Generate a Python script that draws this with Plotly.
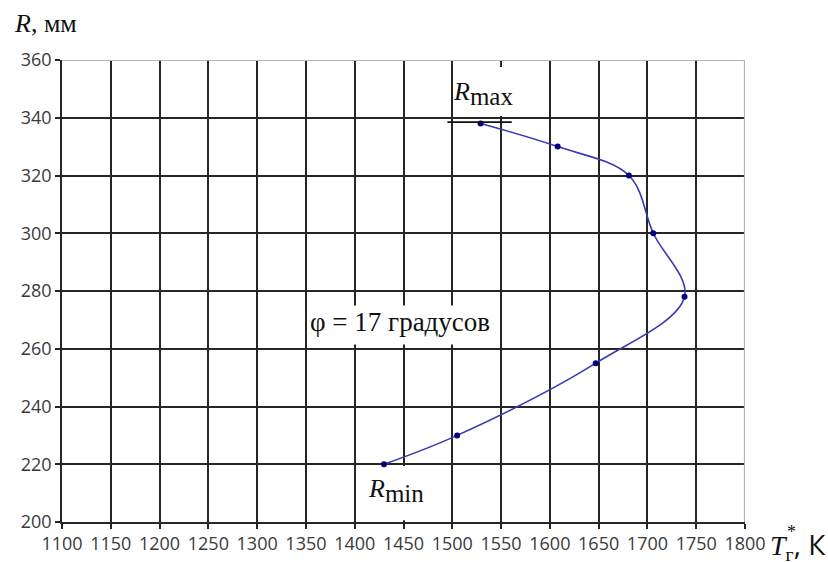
import plotly.graph_objects as go

# Data
T_values = [1430, 1505, 1647, 1738, 1706, 1681, 1608, 1529]
R_values = [220, 230, 255, 278, 300, 320, 330, 338]

x_ticks = list(range(1100, 1801, 50))
y_ticks = list(range(200, 361, 20))

GRID = "#262626"
TICKFONT = dict(family="Open Sans", size=18, color="#3a3a3a")
SERIF = "Liberation Serif"

fig = go.Figure()

fig.add_trace(go.Scatter(
    x=T_values, y=R_values, mode="lines+markers",
    line=dict(color="#3a3ab4", width=1.6, shape="spline", smoothing=1.0),
    marker=dict(color="#000080", size=6),
    showlegend=False, hoverinfo="skip",
))

shapes = []
# white text boxes hiding grid lines (between grid and data)
for (x0, x1, y0, y1) in [(1518, 1578, 340.6, 357.6),
                         (1362, 1546, 261.5, 275.0),
                         (1408, 1494, 200.6, 219.4)]:
    shapes.append(dict(type="rect", xref="x", yref="y", x0=x0, x1=x1, y0=y0, y1=y1,
                       fillcolor="white", line=dict(width=0), layer="between"))
# R_max rule
shapes.append(dict(type="line", xref="x", yref="y", x0=1495, x1=1561, y0=338.5, y1=338.5,
                   line=dict(color="#111111", width=1.6), layer="above"))
# light top and right borders
shapes.append(dict(type="line", xref="x", yref="y", x0=1100, x1=1800, y0=360, y1=360,
                   line=dict(color="#b4b4b4", width=2.2), layer="above"))
shapes.append(dict(type="line", xref="x", yref="y", x0=1800, x1=1800, y0=200, y1=360,
                   line=dict(color="#b4b4b4", width=2.2), layer="above"))

SUB = "<sub><span style='font-size:25px'>{}</span></sub>"

annotations = [
    dict(x=1531, y=348.5, xref="x", yref="y", showarrow=False,
         text="<i>R</i>" + SUB.format("max"), font=dict(family=SERIF, size=26, color="#111111")),
    dict(x=1446, y=269.3, xref="x", yref="y", showarrow=False,
         text="φ = 17 градусов", font=dict(family=SERIF, size=27, color="#111111")),
    dict(x=1442, y=211, xref="x", yref="y", showarrow=False,
         text="<i>R</i>" + SUB.format("min"), font=dict(family=SERIF, size=26, color="#111111")),
    dict(x=-0.0732, y=1.08, xref="paper", yref="paper", xanchor="left", yanchor="middle",
         showarrow=False, text="<i>R</i>, мм",
         font=dict(family=SERIF, size=26, color="#111111")),
    dict(x=1.0337, y=-0.05, xref="paper", yref="paper", xanchor="left", yanchor="middle",
         showarrow=False,
         text="<i>T</i><sub>г</sub><span style='font-family:Open Sans'>, К</span>",
         font=dict(family=SERIF, size=28, color="#111111")),
    dict(x=1.058, y=-0.022, xref="paper", yref="paper", xanchor="left", yanchor="middle",
         showarrow=False, text="*",
         font=dict(family=SERIF, size=18, color="#111111")),
]

fig.update_layout(
    width=828, height=562,
    margin=dict(l=62, r=83, t=60, b=40, autoexpand=False),
    paper_bgcolor="white", plot_bgcolor="white",
    shapes=shapes, annotations=annotations,
    xaxis=dict(range=[1100, 1800], tickvals=x_ticks, ticktext=[str(v) for v in x_ticks],
               showgrid=True, gridcolor=GRID, gridwidth=1.6, zeroline=False,
               showline=True, linecolor=GRID, linewidth=1.6, automargin=False,
               ticks="outside", ticklen=5, tickwidth=1.6, tickcolor=GRID,
               tickfont=TICKFONT, fixedrange=True),
    yaxis=dict(range=[200, 360], tickvals=y_ticks, ticktext=[str(v) for v in y_ticks],
               showgrid=True, gridcolor=GRID, gridwidth=1.6, zeroline=False,
               showline=True, linecolor=GRID, linewidth=1.6, automargin=False,
               ticks="outside", ticklen=5, tickwidth=1.6, tickcolor=GRID,
               tickfont=TICKFONT, fixedrange=True),
)

fig.write_html("out.html")
